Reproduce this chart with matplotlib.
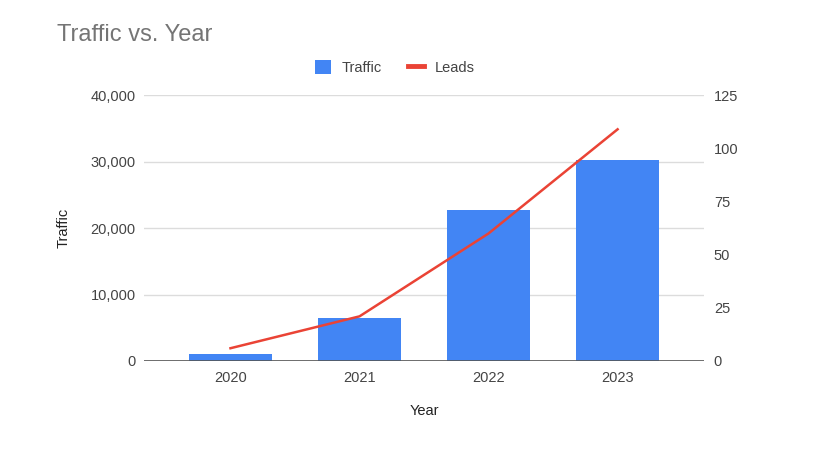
import matplotlib.pyplot as plt
from matplotlib.lines import Line2D
from matplotlib.patches import Patch

plt.rcParams["font.family"] = ["Liberation Sans", "DejaVu Sans"]

years = ["2020", "2021", "2022", "2023"]
traffic = [1100, 6500, 22800, 30200]
leads = [6, 21, 60, 109]

blue = "#4285F4"
red = "#EA4335"

fig = plt.figure(figsize=(8.33, 4.51), dpi=100)
ax = fig.add_axes([0.1729, 0.1996, 0.6723, 0.5891])
ax2 = ax.twinx()

x = list(range(len(years)))
ax.bar(x, traffic, width=0.64, color=blue, zorder=2)
ax2.plot(x, leads, color=red, linewidth=1.8, zorder=3)

ax.set_xlim(-0.67, 3.67)
ax.set_ylim(0, 40000)
ax2.set_ylim(0, 125)
ax.set_xticks(x)
ax.set_xticklabels(years)
ax.set_yticks([0, 10000, 20000, 30000, 40000])
ax.set_yticklabels(["0", "10,000", "20,000", "30,000", "40,000"])
ax2.set_yticks([0, 25, 50, 75, 100, 125])

ax.grid(axis="y", color="#dcdcdc", linewidth=1, zorder=0)
ax.set_axisbelow(True)
for a in (ax, ax2):
    for s in a.spines.values():
        s.set_visible(False)
    a.tick_params(length=0, labelsize=10.5, labelcolor="#444444")
ax.tick_params(axis="y", pad=6)
ax2.tick_params(axis="y", pad=7)
ax.tick_params(axis="x", pad=7)
ax.axhline(0, color="#555555", linewidth=1.2, zorder=4)

ax.set_ylabel("Traffic", fontsize=10.5, color="#222222", labelpad=14)
ax.set_xlabel("Year", fontsize=10.5, color="#222222", labelpad=14)

fig.text(0.068, 0.922, "Traffic vs. Year", fontsize=17, color="#757575",
         ha="left", va="center")

handles = [Patch(facecolor=blue, edgecolor="none"),
           Line2D([0], [0], color=red, linewidth=3.5)]
fig.legend(handles, ["Traffic", "Leads"], loc="center", bbox_to_anchor=(0.474, 0.851),
           ncol=2, frameon=False, fontsize=10.5, handlelength=1.1, handleheight=1.1,
           columnspacing=1.8, handletextpad=0.7, labelcolor="#444444")

fig.savefig("out.png", dpi=100)
